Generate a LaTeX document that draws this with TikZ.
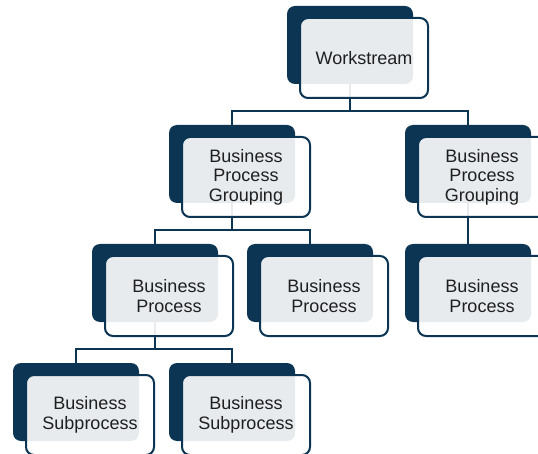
\documentclass[tikz,border=0pt]{standalone}
\usepackage{fontspec}
\setmainfont{Liberation Sans}
\definecolor{navy}{HTML}{0B3552}
\tikzset{
    back card/.style = {
        fill = navy,
        rounded corners = 8pt,
        minimum width = 126pt,
        minimum height = 78pt,
        inner sep = 0pt,
        outer sep = 0pt,
        },
    front card/.style = {
        draw = navy,
        line width = 2pt,
        fill = white,
        fill opacity = 0.9,
        text opacity = 1,
        rounded corners = 8pt,
        minimum width = 128pt,
        minimum height = 80pt,
        inner sep = 0pt,
        outer sep = 0pt,
        align = center,
        font = \fontsize{18}{19.5}\selectfont,
        text = black!88,
        xshift = 14pt,
        yshift = -13pt,
        },
    link/.style = {
        draw = navy,
        line width = 2pt,
        },
}

\begin{document}
\begin{tikzpicture}[x=1pt, y=1pt]
            \useasboundingbox (0,0) rectangle (538,-454);
            \clip (0,0) rectangle (538,-454);

            % dark cards behind
            \node[back card] (bws) at (350,-45) {};
            \node[back card] (bgrp1) at (232,-164) {};
            \node[back card] (bgrp2) at (468,-164) {};
            \node[back card] (bproc1) at (155,-283) {};
            \node[back card] (bproc2) at (310,-283) {};
            \node[back card] (bproc3) at (468,-283) {};
            \node[back card] (bsub1) at (76,-402) {};
            \node[back card] (bsub2) at (232,-402) {};

            % links
            \draw[link] (bws.center) |- ([yshift=14pt]bgrp1.north) -- (bgrp1.north);
            \draw[link] (bws.center) |- ([yshift=14pt]bgrp2.north) -- (bgrp2.north);
            \draw[link] (bgrp1.center) |- ([yshift=14pt]bproc1.north) -- (bproc1.north);
            \draw[link] (bgrp1.center) |- ([yshift=14pt]bproc2.north) -- (bproc2.north);
            \draw[link] (bgrp2.center) -- (bproc3.north);
            \draw[link] (bproc1.center) |- ([yshift=14pt]bsub1.north) -- (bsub1.north);
            \draw[link] (bproc1.center) |- ([yshift=14pt]bsub2.north) -- (bsub2.north);

            % front cards
            \node[front card] (ws) at (bws) {Workstream};
            \node[front card] (grp1) at (bgrp1) {Business\\Process\\Grouping};
            \node[front card] (grp2) at (bgrp2) {Business\\Process\\Grouping};
            \node[front card] (proc1) at (bproc1) {Business\\Process};
            \node[front card] (proc2) at (bproc2) {Business\\Process};
            \node[front card] (proc3) at (bproc3) {Business\\Process};
            \node[front card] (sub1) at (bsub1) {Business\\Subprocess};
            \node[front card] (sub2) at (bsub2) {Business\\Subprocess};
        \end{tikzpicture}
\end{document}
